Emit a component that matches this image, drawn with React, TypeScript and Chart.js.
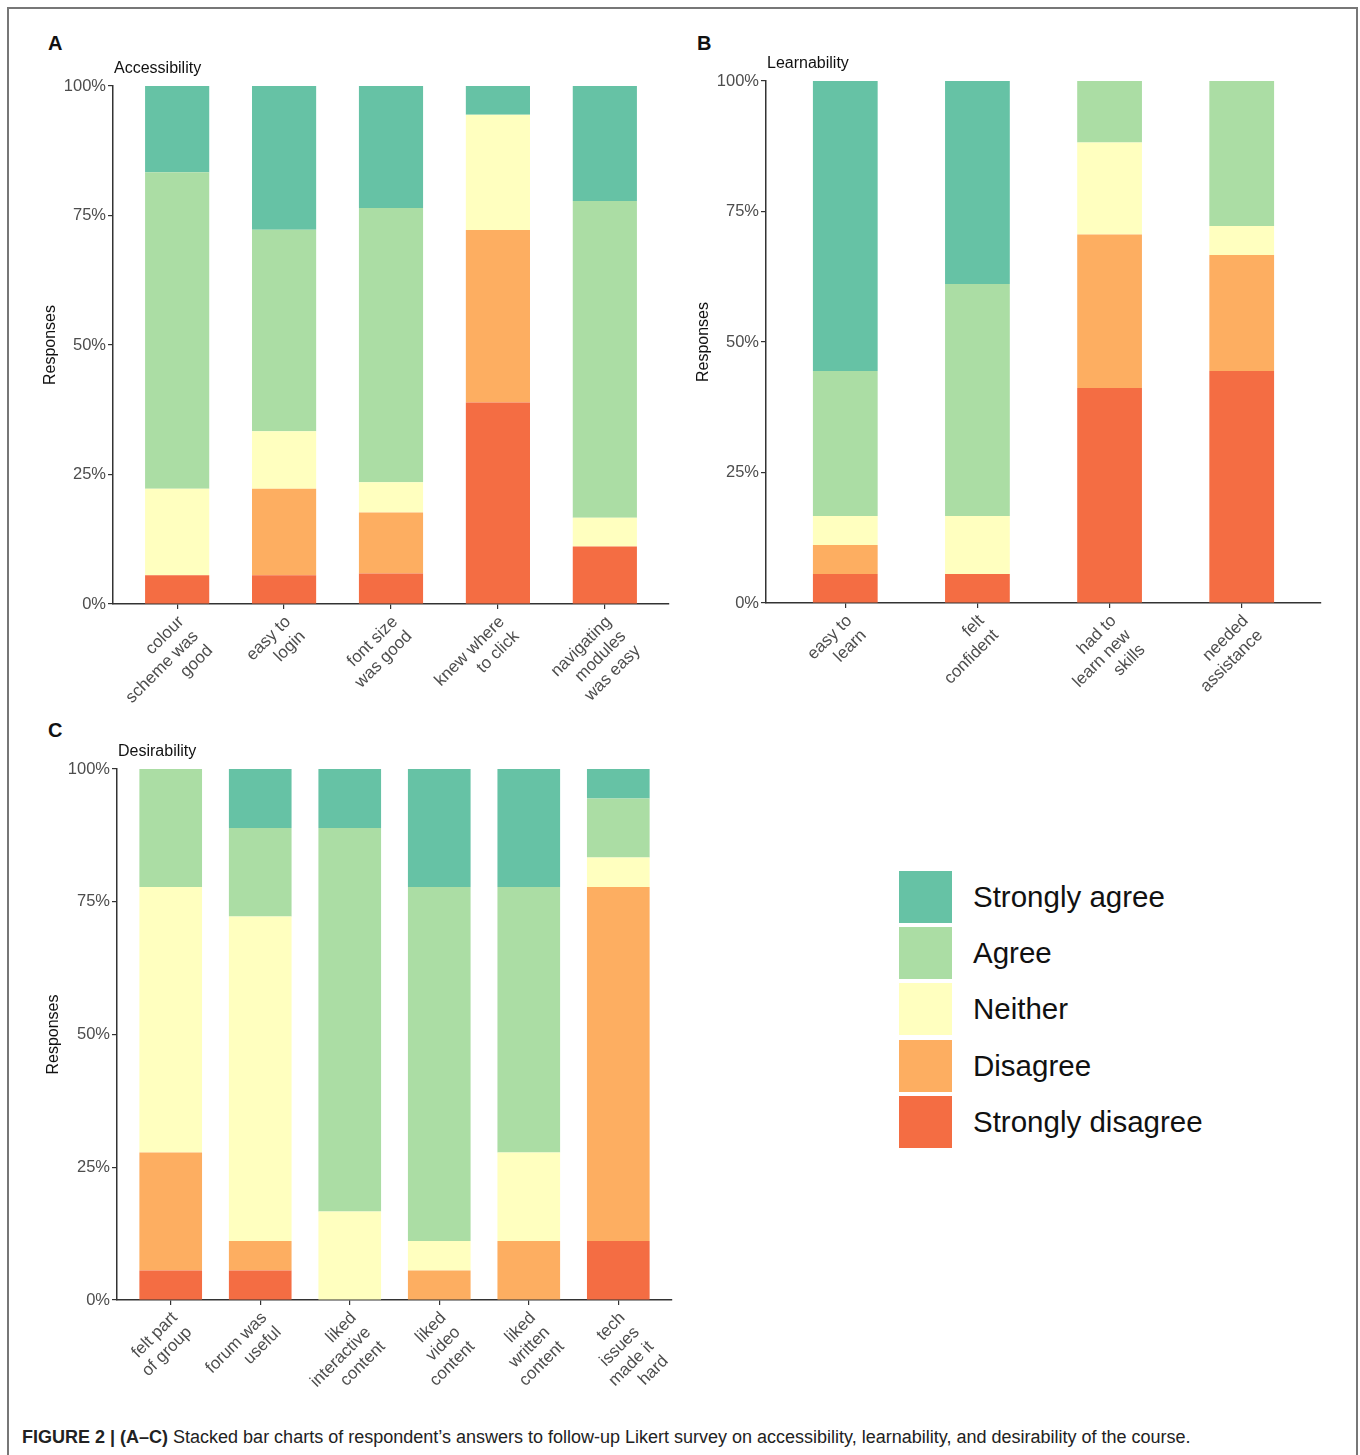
import React, { useEffect, useRef } from "react";
import { Chart, registerables } from "chart.js";

Chart.register(...registerables);

const FONT = '"Liberation Sans", Arial, Helvetica, sans-serif';

// Series (bottom to top of each stack)
const seriesNames = ["Strongly disagree", "Disagree", "Neither", "Agree", "Strongly agree"];
const seriesColors = ["#F46D43", "#FDAE61", "#FFFFBF", "#ABDDA4", "#66C2A5"];
const legendOrder = [4, 3, 2, 1, 0];

// Y tick labels
const yTicks = [0, 25, 50, 75, 100];

// Panel A – Accessibility
const accessLabels = [
  ["colour", "scheme was", "good"],
  ["easy to", "login"],
  ["font size", "was good"],
  ["knew where", "to click"],
  ["navigating", "modules", "was easy"],
];
const accessSD = [5.56, 5.56, 5.88, 38.89, 11.11];
const accessD = [0, 16.67, 11.76, 33.33, 0];
const accessN = [16.67, 11.11, 5.88, 22.22, 5.56];
const accessA = [61.11, 38.89, 52.94, 0, 61.11];
const accessSA = [16.67, 27.78, 23.53, 5.56, 22.22];

// Panel B – Learnability
const learnLabels = [
  ["easy to", "learn"],
  ["felt", "confident"],
  ["had to", "learn new", "skills"],
  ["needed", "assistance"],
];
const learnSD = [5.56, 5.56, 41.18, 44.44];
const learnD = [5.56, 0, 29.41, 22.22];
const learnN = [5.56, 11.11, 17.65, 5.56];
const learnA = [27.78, 44.44, 11.76, 27.78];
const learnSA = [55.56, 38.89, 0, 0];

// Panel C – Desirability
const desireLabels = [
  ["felt part", "of group"],
  ["forum was", "useful"],
  ["liked", "interactive", "content"],
  ["liked", "video", "content"],
  ["liked", "written", "content"],
  ["tech", "issues", "made it", "hard"],
];
const desireSD = [5.56, 5.56, 0, 0, 0, 11.11];
const desireD = [22.22, 5.56, 0, 5.56, 11.11, 66.67];
const desireN = [50, 61.11, 16.67, 5.56, 16.67, 5.56];
const desireA = [22.22, 16.67, 72.22, 66.67, 50, 11.11];
const desireSA = [0, 11.11, 11.11, 22.22, 22.22, 5.56];

const panelTitlePlugin = {
  id: "panelTitle",
  afterDraw(chart: any, _args: any, opts: any) {
    const { ctx, chartArea } = chart;
    ctx.save();
    ctx.font = `16px ${FONT}`;
    ctx.fillStyle = "#111";
    ctx.textAlign = "left";
    ctx.textBaseline = "middle";
    ctx.fillText(opts.text, chartArea.left + 1, chartArea.top - 17);
    ctx.restore();
  },
};

type PanelProps = {
  title: string;
  labels: string[][];
  series: number[][];
  left: number;
  top: number;
  width: number;
  height: number;
  padTop: number;
  yAxisWidth: number;
  xAxisHeight: number;
  barPct: number;
};

function Panel(p: PanelProps) {
  const ref = useRef<HTMLCanvasElement | null>(null);
  useEffect(() => {
    if (!ref.current) return;
    const n = p.labels.length;
    const chart = new Chart(ref.current, {
      type: "bar",
      data: {
        datasets: p.series.map((vals, si) => ({
          label: seriesNames[si],
          data: vals.map((v, i) => ({ x: i + 1, y: v })),
          backgroundColor: seriesColors[si],
          borderWidth: 0,
          categoryPercentage: 1,
          barPercentage: p.barPct,
        })),
      },
      options: {
        animation: false,
        responsive: false,
        devicePixelRatio: 1,
        layout: { padding: { top: p.padTop, right: 10, left: 0, bottom: 0 } },
        plugins: {
          legend: { display: false },
          tooltip: { enabled: false },
          panelTitle: { text: p.title },
        } as any,
        scales: {
          x: {
            type: "linear",
            stacked: true,
            offset: false,
            min: 0.4,
            max: n + 0.6,
            afterBuildTicks: (scale: any) => {
              scale.ticks = p.labels.map((_, i) => ({ value: i + 1 }));
            },
            afterFit: (scale: any) => {
              scale.height = p.xAxisHeight;
            },
            grid: {
              offset: false,
              drawOnChartArea: false,
              drawTicks: true,
              tickLength: 5,
              color: "#333",
              lineWidth: 1.2,
            },
            border: { display: true, color: "#333", width: 1.5 },
            ticks: {
              autoSkip: false,
              maxRotation: 45,
              minRotation: 45,
              padding: 3,
              labelOffset: 4,
              color: "#4d4d4d",
              font: { family: FONT, size: 17 },
              callback: (value: any) => p.labels[Math.round(value) - 1] as any,
            },
          },
          y: {
            stacked: true,
            min: 0,
            max: 100,
            afterBuildTicks: (scale: any) => {
              scale.ticks = yTicks.map((v) => ({ value: v }));
            },
            afterFit: (scale: any) => {
              scale.width = p.yAxisWidth;
            },
            grid: { drawOnChartArea: false, drawTicks: true, tickLength: 5, color: "#333", lineWidth: 1.2 },
            border: { display: true, color: "#333", width: 1.5 },
            ticks: {
              padding: 2,
              color: "#4d4d4d",
              font: { family: FONT, size: 16.5 },
              callback: (value: any) => `${value}%`,
            },
            title: {
              display: true,
              text: "Responses",
              color: "#111",
              padding: { top: 4, bottom: 0 },
              font: { family: FONT, size: 16 },
            },
          },
        },
      },
      plugins: [panelTitlePlugin as any],
    } as any);
    return () => chart.destroy();
  }, []);
  return (
    <canvas
      ref={ref}
      width={p.width}
      height={p.height}
      style={{ position: "absolute", left: p.left, top: p.top, width: p.width, height: p.height }}
    />
  );
}

const letterStyle: React.CSSProperties = {
  position: "absolute",
  fontFamily: FONT,
  fontWeight: "bold",
  fontSize: 20,
  lineHeight: "20px",
  color: "#111",
};

export default function App() {
  return (
    <div
      style={{
        position: "absolute",
        left: 0,
        top: 0,
        width: 1360,
        height: 1455,
        overflow: "hidden",
        background: "#fff",
        fontFamily: FONT,
      }}
    >
      <div
        style={{
          position: "absolute",
          left: 7,
          top: 7,
          width: 1347,
          height: 1470,
          borderTop: "2px solid #777",
          borderLeft: "2px solid #777",
          borderRight: "2px solid #777",
        }}
      />
      <div style={{ ...letterStyle, left: 48, top: 33 }}>A</div>
      <div style={{ ...letterStyle, left: 697, top: 33 }}>B</div>
      <div style={{ ...letterStyle, left: 48, top: 720 }}>C</div>

      <Panel
        title="Accessibility"
        labels={accessLabels}
        series={[accessSD, accessD, accessN, accessA, accessSA]}
        left={37}
        top={40}
        width={642}
        height={674}
        padTop={46}
        yAxisWidth={76}
        xAxisHeight={110}
        barPct={0.6}
      />
      <Panel
        title="Learnability"
        labels={learnLabels}
        series={[learnSD, learnD, learnN, learnA, learnSA]}
        left={690}
        top={35}
        width={641}
        height={678}
        padTop={46}
        yAxisWidth={76}
        xAxisHeight={110}
        barPct={0.49}
      />
      <Panel
        title="Desirability"
        labels={desireLabels}
        series={[desireSD, desireD, desireN, desireA, desireSA]}
        left={40}
        top={720}
        width={642}
        height={690}
        padTop={49}
        yAxisWidth={77}
        xAxisHeight={110}
        barPct={0.7}
      />

      {legendOrder.map((si, k) => (
        <div key={si}>
          <div
            style={{
              position: "absolute",
              left: 899,
              top: 871 + k * 56.2,
              width: 53,
              height: 52,
              background: seriesColors[si],
            }}
          />
          <div
            style={{
              position: "absolute",
              left: 973,
              top: 871 + k * 56.2,
              height: 52,
              lineHeight: "52px",
              fontSize: 29.5,
              color: "#111",
              whiteSpace: "nowrap",
            }}
          >
            {seriesNames[si]}
          </div>
        </div>
      ))}

      <div
        style={{
          position: "absolute",
          left: 22,
          top: 1426,
          fontSize: 18,
          lineHeight: "22px",
          color: "#222",
          whiteSpace: "nowrap",
        }}
      >
        <b>FIGURE 2 | (A–C)</b> Stacked bar charts of respondent’s answers to follow-up Likert survey on accessibility,
        learnability, and desirability of the course.
      </div>
    </div>
  );
}
